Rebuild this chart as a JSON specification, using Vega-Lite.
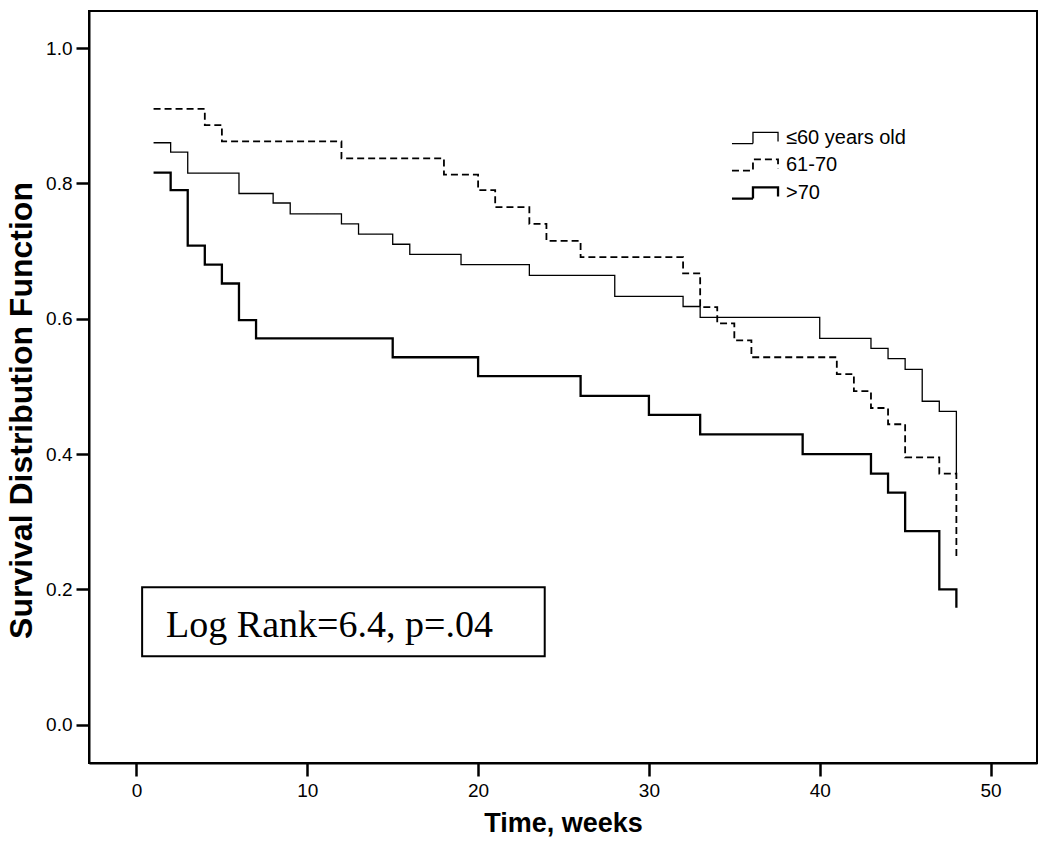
{
  "$schema": "https://vega.github.io/schema/vega-lite/v6.json",
  "width": 948,
  "height": 752,
  "autosize": {"type": "none"},
  "padding": {"left": 89, "top": 11, "right": 13, "bottom": 86},
  "background": "white",
  "config": {
    "font": "Liberation Sans",
    "view": {"stroke": "black", "strokeWidth": 2},
    "axis": {
      "domainColor": "black", "domainWidth": 2,
      "tickColor": "black", "tickWidth": 2.5, "tickSize": 13,
      "labelColor": "black", "labelFont": "Liberation Sans", "labelFontSize": 19,
      "titleColor": "black", "titleFont": "Liberation Sans", "titleFontWeight": "bold",
      "grid": false
    }
  },
  "datasets": {
    "km": [
      {"group": "≤60 years old", "t": 1, "s": 0.860},
      {"group": "≤60 years old", "t": 2, "s": 0.846},
      {"group": "≤60 years old", "t": 3, "s": 0.815},
      {"group": "≤60 years old", "t": 6, "s": 0.785},
      {"group": "≤60 years old", "t": 8, "s": 0.771},
      {"group": "≤60 years old", "t": 9, "s": 0.755},
      {"group": "≤60 years old", "t": 12, "s": 0.740},
      {"group": "≤60 years old", "t": 13, "s": 0.725},
      {"group": "≤60 years old", "t": 15, "s": 0.710},
      {"group": "≤60 years old", "t": 16, "s": 0.695},
      {"group": "≤60 years old", "t": 19, "s": 0.680},
      {"group": "≤60 years old", "t": 23, "s": 0.664},
      {"group": "≤60 years old", "t": 28, "s": 0.633},
      {"group": "≤60 years old", "t": 32, "s": 0.618},
      {"group": "≤60 years old", "t": 33, "s": 0.602},
      {"group": "≤60 years old", "t": 40, "s": 0.571},
      {"group": "≤60 years old", "t": 43, "s": 0.556},
      {"group": "≤60 years old", "t": 44, "s": 0.541},
      {"group": "≤60 years old", "t": 45, "s": 0.525},
      {"group": "≤60 years old", "t": 46, "s": 0.478},
      {"group": "≤60 years old", "t": 47, "s": 0.463},
      {"group": "≤60 years old", "t": 48, "s": 0.370},
      {"group": "61-70", "t": 1, "s": 0.910},
      {"group": "61-70", "t": 4, "s": 0.886},
      {"group": "61-70", "t": 5, "s": 0.862},
      {"group": "61-70", "t": 12, "s": 0.837},
      {"group": "61-70", "t": 18, "s": 0.813},
      {"group": "61-70", "t": 20, "s": 0.790},
      {"group": "61-70", "t": 21, "s": 0.765},
      {"group": "61-70", "t": 23, "s": 0.740},
      {"group": "61-70", "t": 24, "s": 0.715},
      {"group": "61-70", "t": 26, "s": 0.691},
      {"group": "61-70", "t": 32, "s": 0.667},
      {"group": "61-70", "t": 33, "s": 0.617},
      {"group": "61-70", "t": 34, "s": 0.593},
      {"group": "61-70", "t": 35, "s": 0.568},
      {"group": "61-70", "t": 36, "s": 0.543},
      {"group": "61-70", "t": 41, "s": 0.518},
      {"group": "61-70", "t": 42, "s": 0.493},
      {"group": "61-70", "t": 43, "s": 0.468},
      {"group": "61-70", "t": 44, "s": 0.444},
      {"group": "61-70", "t": 45, "s": 0.395},
      {"group": "61-70", "t": 47, "s": 0.371},
      {"group": "61-70", "t": 48, "s": 0.247},
      {"group": ">70", "t": 1, "s": 0.816},
      {"group": ">70", "t": 2, "s": 0.790},
      {"group": ">70", "t": 3, "s": 0.708},
      {"group": ">70", "t": 4, "s": 0.680},
      {"group": ">70", "t": 5, "s": 0.652},
      {"group": ">70", "t": 6, "s": 0.598},
      {"group": ">70", "t": 7, "s": 0.571},
      {"group": ">70", "t": 15, "s": 0.543},
      {"group": ">70", "t": 20, "s": 0.515},
      {"group": ">70", "t": 26, "s": 0.486},
      {"group": ">70", "t": 30, "s": 0.458},
      {"group": ">70", "t": 33, "s": 0.429},
      {"group": ">70", "t": 39, "s": 0.400},
      {"group": ">70", "t": 43, "s": 0.371},
      {"group": ">70", "t": 44, "s": 0.343},
      {"group": ">70", "t": 45, "s": 0.286},
      {"group": ">70", "t": 47, "s": 0.200},
      {"group": ">70", "t": 48, "s": 0.173}
    ],
    "note": [
      {"label": "Log Rank=6.4, p=.04"}
    ]
  },
  "layer": [
    {
      "data": {"name": "note"},
      "mark": {"type": "rect", "fill": "white", "stroke": "black", "strokeWidth": 2},
      "encoding": {
        "x": {"datum": 0.33, "type": "quantitative"},
        "x2": {"datum": 23.9},
        "y": {"datum": 0.203, "type": "quantitative"},
        "y2": {"datum": 0.101}
      }
    },
    {
      "data": {"name": "note"},
      "mark": {"type": "text", "font": "Liberation Serif", "fontSize": 38, "align": "center", "baseline": "alphabetic", "color": "black"},
      "encoding": {
        "x": {"datum": 11.3, "type": "quantitative"},
        "y": {"datum": 0.130, "type": "quantitative"},
        "text": {"field": "label"}
      }
    },
    {
      "data": {"name": "km"},
      "mark": {"type": "line", "interpolate": "step-after", "color": "black", "strokeCap": "butt", "strokeJoin": "miter"},
      "encoding": {
        "x": {
          "field": "t", "type": "quantitative",
          "scale": {"domain": [-2.78, 52.72], "nice": false, "zero": false},
          "axis": {"values": [0, 10, 20, 30, 40, 50], "title": "Time, weeks", "titleFontSize": 27, "titlePadding": 10, "labelPadding": 5}
        },
        "y": {
          "field": "s", "type": "quantitative",
          "scale": {"domain": [-0.0566, 1.0547], "nice": false, "zero": false},
          "axis": {"values": [0, 0.2, 0.4, 0.6, 0.8, 1.0], "format": ".1f", "title": "Survival Distribution Function", "titleFontSize": 32, "titlePadding": 7, "titleY": 399, "labelPadding": 4}
        },
        "strokeDash": {
          "field": "group", "type": "nominal",
          "scale": {"domain": ["≤60 years old", "61-70", ">70"], "range": [[1, 0], [7, 4], [1, 0]]},
          "legend": {
            "title": null, "orient": "none", "legendX": 656, "legendY": 117,
            "symbolType": "M-3.29,0.79H-0.29V-0.79H3.29V0.5",
            "symbolSize": 196, "symbolFillColor": "transparent", "symbolStrokeColor": "black",
            "labelFontSize": 20, "labelColor": "black", "labelOffset": 21, "rowPadding": 7, "padding": 0
          }
        },
        "strokeWidth": {
          "field": "group", "type": "nominal",
          "scale": {"domain": ["≤60 years old", "61-70", ">70"], "range": [1.3, 2.3, 5]},
          "legend": {
            "title": null, "orient": "none", "legendX": 656, "legendY": 117,
            "symbolType": "M-3.29,0.79H-0.29V-0.79H3.29V0.5",
            "symbolSize": 196, "symbolFillColor": "transparent", "symbolStrokeColor": "black",
            "labelFontSize": 20, "labelColor": "black", "labelOffset": 21, "rowPadding": 7, "padding": 0
          }
        }
      }
    }
  ]
}
